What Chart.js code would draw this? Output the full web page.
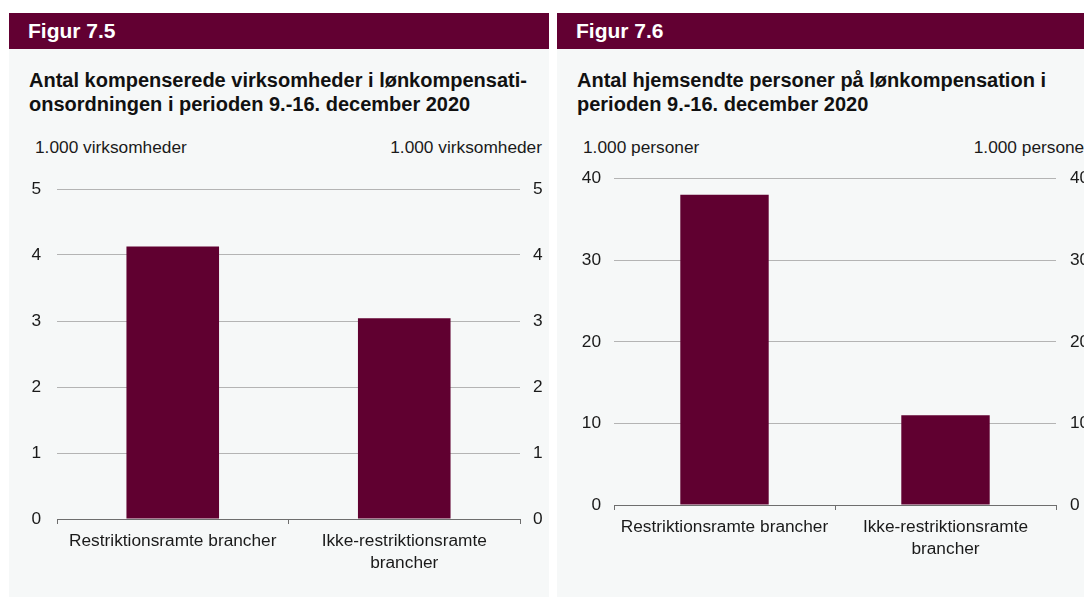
<!DOCTYPE html>
<html>
<head>
<meta charset="utf-8">
<script src="https://cdn.jsdelivr.net/npm/chart.js@4.4.1/dist/chart.umd.min.js"></script>
<style>
  html, body { margin: 0; padding: 0; background: #ffffff; width: 1084px; height: 597px; overflow: hidden; }
  body { position: relative; font-family: "Liberation Sans", Arial, sans-serif; color: #1a1a1a; }
  .panel { position: absolute; top: 13px; width: 540px; height: 600px; background: #f6f8f8; overflow: hidden; }
  .head { position: absolute; left: 0; top: 0; width: 100%; height: 36px; background: #620032; }
  .head span { position: absolute; left: 19px; top: 50%; transform: translateY(-50%); color: #fff; font-weight: bold; font-size: 21px; }
  .title { position: absolute; left: 20px; top: 55px; font-weight: bold; font-size: 20px; line-height: 24px; color: #111; white-space: nowrap; }
  .unit { position: absolute; font-size: 17.3px; line-height: 20px; color: #1a1a1a; white-space: nowrap; }
  canvas { position: absolute; }
</style>
</head>
<body>
<div class="panel" id="p1" style="left:9px;">
  <div class="head"><span>Figur 7.5</span></div>
  <div class="title">Antal kompenserede virksomheder i lønkompensati-<br>onsordningen i perioden 9.-16. december 2020</div>
  <div class="unit" style="left:26px; top:124px;">1.000 virksomheder</div>
  <div class="unit" style="right:7px; top:124px;">1.000 virksomheder</div>
  <canvas id="c1" width="540" height="430" style="left:0; top:147px;"></canvas>
</div>
<div class="panel" id="p2" style="left:557px;">
  <div class="head"><span>Figur 7.6</span></div>
  <div class="title">Antal hjemsendte personer på lønkompensation i<br>perioden 9.-16. december 2020</div>
  <div class="unit" style="left:26px; top:124px;">1.000 personer</div>
  <div class="unit" style="right:7px; top:124px;">1.000 personer</div>
  <canvas id="c2" width="540" height="430" style="left:0; top:147px;"></canvas>
</div>
<script>
// Data
const categories = ["Restriktionsramte brancher", ["Ikke-restriktionsramte", "brancher"]];
const firms = [4.13, 3.04];        // 1.000 virksomheder
const persons = [38, 11];          // 1.000 personer
const firmTicks = [0, 1, 2, 3, 4, 5];
const personTicks = [0, 10, 20, 30, 40];

const BAR = '#600030';
const FONT = { family: "'Liberation Sans', Arial, sans-serif", size: 17.3 };
const TXT = '#1a1a1a';

function makeChart(id, values, ticks, geo) {
  const yCommon = {
    min: ticks[0], max: ticks[ticks.length - 1],
    ticks: { stepSize: ticks[1] - ticks[0], color: TXT, font: FONT },
    border: { display: false }
  };
  const fitY = w => s => { s.width = w; s.paddingTop = 0; s.paddingBottom = 0; };
  return new Chart(document.getElementById(id), {
    type: 'bar',
    data: {
      labels: categories,
      datasets: [{ data: values, backgroundColor: BAR, borderWidth: 0,
                   categoryPercentage: 1.0, barPercentage: 0.4, yAxisID: 'y' }]
    },
    options: {
      responsive: false,
      animation: false,
      layout: { padding: { top: geo.top, left: 0, right: 0, bottom: 0 } },
      plugins: { legend: { display: false }, tooltip: { enabled: false } },
      scales: {
        x: {
          grid: { display: true, drawOnChartArea: false, offset: true, tickLength: 5, color: '#6e6e6e' },
          border: { display: true, color: '#6e6e6e', width: 1 },
          ticks: { color: TXT, font: { ...FONT, lineHeight: 1.28 }, padding: 6, maxRotation: 0, autoSkip: false },
          afterFit: s => { s.height = geo.xh; s.paddingLeft = 0; s.paddingRight = 0; }
        },
        y: {
          ...yCommon, position: 'left',
          ticks: { ...yCommon.ticks, padding: geo.lp },
          grid: { color: '#b4b4b4', drawTicks: false, lineWidth: 1 },
          afterFit: fitY(geo.lw)
        },
        y2: {
          ...yCommon, position: 'right',
          ticks: { ...yCommon.ticks, padding: geo.rp },
          grid: { display: false, drawTicks: false },
          afterFit: fitY(geo.rw)
        }
      }
    }
  });
}

makeChart('c1', firms, firmTicks, { top: 29, xh: 71, lw: 48, rw: 29, lp: 16, rp: 13 });
makeChart('c2', persons, personTicks, { top: 18.5, xh: 85, lw: 57, rw: 41, lp: 13, rp: 14 });
</script>
</body>
</html>
